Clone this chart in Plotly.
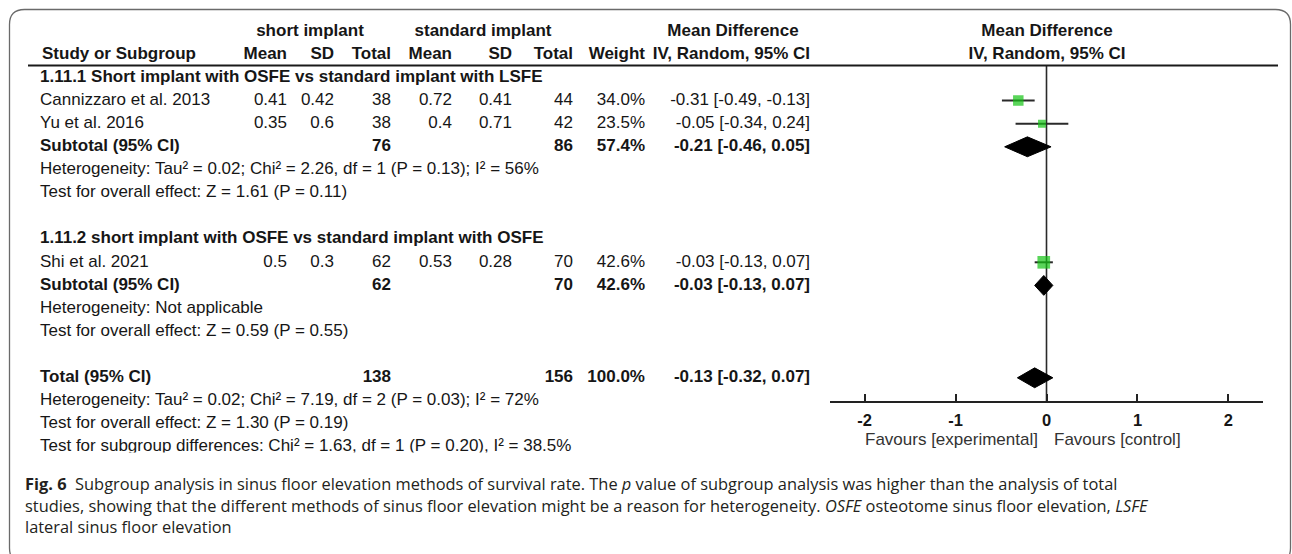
import plotly.graph_objects as go

W, H = 1292, 554

# ---- study-level data -------------------------------------------------------
study = ["Cannizzaro et al. 2013", "Yu et al. 2016", "Shi et al. 2021"]
short_mean = [0.41, 0.35, 0.5]
short_sd = [0.42, 0.6, 0.3]
short_n = [38, 38, 62]
std_mean = [0.72, 0.4, 0.53]
std_sd = [0.41, 0.71, 0.28]
std_n = [44, 42, 70]
weight = [34.0, 23.5, 42.6]
md = [-0.31, -0.05, -0.03]
md_lo = [-0.49, -0.34, -0.13]
md_hi = [-0.13, 0.24, 0.07]

# ---- pooled estimates: subgroup 1.11.1, subgroup 1.11.2, overall -----------
pool_label = ["Subtotal (95% CI)", "Subtotal (95% CI)", "Total (95% CI)"]
pool_short_n = [76, 62, 138]
pool_std_n = [86, 70, 156]
pool_weight = [57.4, 42.6, 100.0]
pool_md = [-0.21, -0.03, -0.13]
pool_lo = [-0.46, -0.13, -0.32]
pool_hi = [0.05, 0.07, 0.07]

subgroup_title = [
    "1.11.1 Short implant with OSFE vs standard implant with LSFE",
    "1.11.2 short implant with OSFE vs standard implant with OSFE",
]
heterogeneity = [
    "Heterogeneity: Tau² = 0.02; Chi² = 2.26, df = 1 (P = 0.13); I² = 56%",
    "Heterogeneity: Not applicable",
    "Heterogeneity: Tau² = 0.02; Chi² = 7.19, df = 2 (P = 0.03); I² = 72%",
]
overall_effect = [
    "Test for overall effect: Z = 1.61 (P = 0.11)",
    "Test for overall effect: Z = 0.59 (P = 0.55)",
    "Test for overall effect: Z = 1.30 (P = 0.19)",
]
subgroup_diff = "Test for subgroup differences: Chi² = 1.63, df = 1 (P = 0.20), I² = 38.5%"

x_ticks = [-2, -1, 0, 1, 2]
x_tick_text = ["-2", "-1", "0", "1", "2"]
favours = ["Favours [experimental]", "Favours [control]"]

caption = [
    "<b>Fig. 6</b>\u00a0\u00a0Subgroup analysis in sinus floor elevation methods of survival rate. "
    "The <i>p</i> value of subgroup analysis was higher than the analysis of total",
    "studies, showing that the different methods of sinus floor elevation might be a reason "
    "for heterogeneity. <i>OSFE</i> osteotome sinus floor elevation, <i>LSFE</i>",
    "lateral sinus floor elevation",
]

# ---- layout constants ---------------------------------------------------------
ROW0, PITCH = 77.5, 23.1          # pixel centre of row 0 and row spacing
def px_row(p):
    return (p - ROW0) / PITCH
def PX(x):
    return x / W
def PY(y):
    return 1 - y / H

study_row = [1, 2, 8]
pool_row = [3, 9, 13]
title_row = [0, 7]
het_row = [4, 10, 14]
effect_row = [5, 11, 15]
diff_row = 16

LABEL_X = 40
COL = dict(short_mean=287, short_sd=334, short_n=391, std_mean=452,
           std_sd=512, std_n=573, weight=645, ci=810)

FONT = "Liberation Sans, Arial, sans-serif"
FS = 17
INK = "#161616"

def fmt_ci(m, lo, hi):
    return f"{m:.2f} [{lo:.2f}, {hi:.2f}]"

left_items, right_items, centre_items = [], [], []

# column headers
centre_items += [(310, -2, "<b>short implant</b>"), (483, -2, "<b>standard implant</b>"),
                 (733, -2, "<b>Mean Difference</b>")]
left_items.append((42, -1, "<b>Study or Subgroup</b>"))
for key, name in [("short_mean", "Mean"), ("short_sd", "SD"), ("short_n", "Total"),
                  ("std_mean", "Mean"), ("std_sd", "SD"), ("std_n", "Total"),
                  ("weight", "Weight"), ("ci", "IV, Random, 95% CI")]:
    right_items.append((COL[key], -1, f"<b>{name}</b>"))

for r, t in zip(title_row, subgroup_title):
    left_items.append((LABEL_X, r, f"<b>{t}</b>"))

for i, r in enumerate(study_row):
    left_items.append((LABEL_X, r, study[i]))
    for key, val in [("short_mean", short_mean[i]), ("short_sd", short_sd[i]),
                     ("short_n", short_n[i]), ("std_mean", std_mean[i]),
                     ("std_sd", std_sd[i]), ("std_n", std_n[i])]:
        right_items.append((COL[key], r, str(val)))
    right_items.append((COL["weight"], r, f"{weight[i]:.1f}%"))
    right_items.append((COL["ci"], r, fmt_ci(md[i], md_lo[i], md_hi[i])))

for i, r in enumerate(pool_row):
    left_items.append((LABEL_X, r, f"<b>{pool_label[i]}</b>"))
    right_items.append((COL["short_n"], r, f"<b>{pool_short_n[i]}</b>"))
    right_items.append((COL["std_n"], r, f"<b>{pool_std_n[i]}</b>"))
    right_items.append((COL["weight"], r, f"<b>{pool_weight[i]:.1f}%</b>"))
    right_items.append((COL["ci"], r, f"<b>{fmt_ci(pool_md[i], pool_lo[i], pool_hi[i])}</b>"))

for r, t in zip(het_row, heterogeneity):
    left_items.append((LABEL_X, r, t))
for r, t in zip(effect_row, overall_effect):
    left_items.append((LABEL_X, r, t))
left_items.append((LABEL_X, diff_row, subgroup_diff))

# right-hand forest header
centre_items += [(1047, -2, "<b>Mean Difference</b>"), (1047, -1, "<b>IV, Random, 95% CI</b>")]

fig = go.Figure()

def text_trace(items, pos):
    return go.Scatter(
        x=[a for a, _, _ in items], y=[b for _, b, _ in items],
        text=[c for _, _, c in items], mode="text", textposition=pos,
        textfont=dict(family=FONT, size=FS, color=INK),
        xaxis="x2", yaxis="y2", hoverinfo="skip", cliponaxis=True,
    )

fig.add_trace(text_trace(left_items, "middle right"))
fig.add_trace(text_trace(right_items, "middle left"))
fig.add_trace(text_trace(centre_items, "middle center"))

# ---- forest plot -------------------------------------------------------------
ci_x, ci_y = [], []
for i, r in enumerate(study_row):
    ci_x += [md_lo[i], md_hi[i], None]
    ci_y += [r, r, None]
fig.add_trace(go.Scatter(x=ci_x, y=ci_y, mode="lines",
                         line=dict(color="#2a2a2a", width=2), hoverinfo="skip"))

fig.add_trace(go.Scatter(
    x=md, y=study_row, mode="markers",
    marker=dict(symbol="square", color="#14c314",
                size=[2 + 0.25 * w for w in weight], line=dict(width=0)),
    hoverinfo="skip"))

HALF = 0.43
for i, r in enumerate(pool_row):
    fig.add_trace(go.Scatter(
        x=[pool_lo[i], pool_md[i], pool_hi[i], pool_md[i], pool_lo[i]],
        y=[r, r - HALF, r, r + HALF, r],
        mode="lines", fill="toself", fillcolor="#000000",
        line=dict(color="#000000", width=1), hoverinfo="skip"))

AX_L, AX_R, AX_TOP, AX_BOT = 830, 1263, 65.5, 401
X_LIM = 2.38
CLIP = 452.5

fig.update_layout(
    width=W, height=H, margin=dict(l=0, r=0, t=0, b=0),
    paper_bgcolor="white", plot_bgcolor="rgba(0,0,0,0)", showlegend=False,
    xaxis=dict(domain=[PX(AX_L), PX(AX_R)], range=[-X_LIM, X_LIM], anchor="y",
               showgrid=False, zeroline=False, showline=True, linecolor="#222222",
               linewidth=2, ticks="inside", ticklen=7, tickwidth=2, tickcolor="#222222",
               tickvals=x_ticks, ticktext=x_tick_text, ticklabelstandoff=3,
               tickfont=dict(family=FONT, size=16.5, color=INK, weight="bold"), fixedrange=True),
    yaxis=dict(domain=[PY(AX_BOT), PY(AX_TOP)], range=[px_row(AX_BOT), px_row(AX_TOP)],
               visible=False, fixedrange=True),
    xaxis2=dict(domain=[0, 1], range=[0, W], anchor="y2", visible=False, fixedrange=True),
    yaxis2=dict(domain=[PY(CLIP), 1], range=[px_row(CLIP), px_row(0)], anchor="x2",
                visible=False, fixedrange=True),
)

# zero line and header rule
fig.add_shape(type="line", xref="x", yref="y domain", x0=0, x1=0, y0=0, y1=1,
              line=dict(color="#2a2a2a", width=1.6), layer="below")
fig.add_shape(type="line", xref="paper", yref="paper", x0=PX(28), x1=PX(1278),
              y0=PY(AX_TOP), y1=PY(AX_TOP), line=dict(color="#1a1a1a", width=2))

# rounded frame
R = 15
fl, ft, fr, fb = 9.5, 9.5, 1290.5, 563
path = (f"M {PX(fl)},{PY(fb - R)} L {PX(fl)},{PY(ft + R)} "
        f"Q {PX(fl)},{PY(ft)} {PX(fl + R)},{PY(ft)} L {PX(fr - R)},{PY(ft)} "
        f"Q {PX(fr)},{PY(ft)} {PX(fr)},{PY(ft + R)} L {PX(fr)},{PY(fb - R)} "
        f"Q {PX(fr)},{PY(fb)} {PX(fr - R)},{PY(fb)} L {PX(fl + R)},{PY(fb)} "
        f"Q {PX(fl)},{PY(fb)} {PX(fl)},{PY(fb - R)} Z")
fig.add_shape(type="path", xref="paper", yref="paper", path=path,
              line=dict(color="#6a6a6a", width=1.3))

# favours labels
fig.add_annotation(xref="paper", yref="paper", x=PX(1040), y=PY(439), text=favours[0],
                   xanchor="right", yanchor="middle", showarrow=False,
                   font=dict(family=FONT, size=17, color="#333333"))
fig.add_annotation(xref="paper", yref="paper", x=PX(1052), y=PY(439), text=favours[1],
                   xanchor="left", yanchor="middle", showarrow=False,
                   font=dict(family=FONT, size=17, color="#333333"))

# caption
for y, line in zip([483, 505, 526], caption):
    fig.add_annotation(xref="paper", yref="paper", x=PX(23), y=PY(y), text=line,
                       xanchor="left", yanchor="middle", showarrow=False,
                       font=dict(family="Open Sans, Lato, sans-serif", size=16.4,
                                 color="#231f20"))

fig.write_html("out.html")
